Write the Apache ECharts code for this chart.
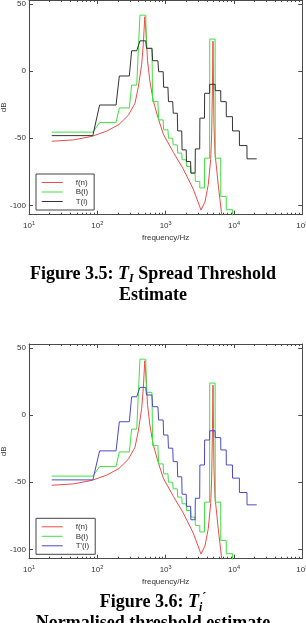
<!DOCTYPE html>
<html><head><meta charset="utf-8">
<script src="https://cdn.jsdelivr.net/npm/echarts@6/dist/echarts.min.js"></script>
<style>html,body{margin:0;padding:0;background:#fff;}#c{width:306px;height:623px;}</style>
</head><body><div id="c"></div>
<script>
// ---- data ----
// critical-band step edges (Hz)
const bandLo = [21.5, 108, 210, 318, 421, 525, 645, 790, 935, 1100, 1290, 1500, 1740, 2020, 2340, 2720, 3170, 3720, 4420, 5320, 6420, 7720, 9520, 12020, 15520];
const bandHi = [86, 188, 294, 377, 511, 630, 770, 920, 1080, 1270, 1480, 1720, 2000, 2320, 2700, 3150, 3700, 4400, 5300, 6400, 7700, 9500, 12000, 15500, 21500];
// B(i) spread band energy (dB), same in both figures
const bandB = [-45.5, -38.4, -27.5, -10.5, 41.6, 16.9, -22.8, -36.4, -43.8, -50, -55, -61.1, -66.1, -71.1, -76, -82.2, -87.1, -64.9, 23.8, -64.9, -93.4, -103.3, -115, null, null];
// T(i) spread threshold (Figure 3.5)
const threshT = [-48.1, -25.3, -3.7, 15.1, 22.5, 16.9, 7.7, -0.5, -12.1, -22.8, -31.4, -44.6, -58.7, -67.4, -76, -58, -35.1, -16.6, -9.9, -14.6, -22.8, -34, -44.6, -55.5, -65.4];
// T'(i) normalised threshold (Figure 3.6)
const threshTn = [-48.3, -26.7, -5.0, 13.6, 20.6, 14.9, 6.2, -3.7, -14.9, -24.7, -34.7, -46, -59, -68, -78, -62, -37.2, -18.6, -11.7, -16.8, -26, -37.2, -47, -57.7, -66.9];
// f(n) spectrum
const specFreq = [21.5, 44.5, 82.7, 137, 207.6, 283.9, 355.9, 397.8, 446, 471, 495, 518, 542, 590, 658, 776, 924, 1294, 1812, 2538, 3290, 3764, 4207, 4562, 4718, 4847, 4930, 5012, 5098, 5274, 5895, 6611, 7000];
const specDb = [-52.3, -51.3, -48.7, -44.8, -39.8, -33, -24, -12, 5, 20, 40.4, 28, 8, -8, -22, -35, -47, -60.5, -73, -88, -103.5, -97.5, -84.5, -66, -47, -10, 22.3, -10, -40, -61, -85, -107, -118];
// axes
const yTicks = [-100, -50, 0, 50];
const minorMult = [2, 3, 4, 5, 6, 7, 8, 9];
const legendNames1 = ['f(n)', 'B(i)', 'T(i)'];
const legendNames2 = ['f(n)', 'B(i)', "T'(i)"];

// ---- build ----
function steps(vals) {
  const out = [];
  vals.forEach((v, i) => {
    if (v === null) return;
    out.push([bandLo[i], v]);
    out.push([bandHi[i], v]);
  });
  return out;
}
const specPts = specFreq.map((f, i) => [f, specDb[i]]);

const axisCol = '#4a4a4a';
const txtCol = '#333';
const sans = 'Liberation Sans';
const serif = 'Liberation Serif';
const grids = [
  {left: 29, top: 0, width: 273.3, height: 214.7, containLabel: false, outerBoundsMode: 'none'},
  {left: 29, top: 344, width: 273.3, height: 214.7, containLabel: false, outerBoundsMode: 'none'}
];
const xAxes = [], yAxes = [], mainX = [], leftY = [];
grids.forEach((g, gi) => {
  mainX.push(xAxes.length);
  xAxes.push({
    type: 'log', logBase: 10, gridIndex: gi, position: 'bottom', min: 10, max: 100000,
    axisLine: {show: true, onZero: false, lineStyle: {color: axisCol, width: 1}},
    axisTick: {show: true, inside: true, length: 4, lineStyle: {color: axisCol}},
    axisLabel: {
      show: true, margin: 5.5, hideOverlap: false,
      formatter: v => '{m|10}{s|' + Math.round(Math.log10(v)) + '}',
      rich: {
        m: {fontSize: 8, fontFamily: sans, color: txtCol, lineHeight: 12, verticalAlign: 'middle'},
        s: {fontSize: 5.5, fontFamily: sans, color: txtCol, lineHeight: 5, verticalAlign: 'top'}
      }
    },
    splitLine: {show: false},
    name: 'frequency/Hz', nameLocation: 'middle', nameGap: 19.5, nameMoveOverlap: false,
    nameTextStyle: {fontSize: 8, fontFamily: sans, color: txtCol}
  });
  xAxes.push({
    type: 'log', logBase: 10, gridIndex: gi, position: 'top', min: 10, max: 100000,
    axisLine: {show: true, onZero: false, lineStyle: {color: axisCol, width: 1}},
    axisTick: {show: true, inside: true, length: 4, lineStyle: {color: axisCol}},
    axisLabel: {show: false}, splitLine: {show: false}
  });
  ['bottom', 'top'].forEach(pos => {
    minorMult.forEach(m => {
      xAxes.push({
        type: 'log', logBase: 10, gridIndex: gi, position: pos, min: 10 / m, max: 100000 / m,
        axisLine: {show: false, onZero: false},
        axisTick: {show: true, inside: true, length: 2, lineStyle: {color: axisCol}},
        axisLabel: {show: false}, splitLine: {show: false}
      });
    });
  });
  leftY.push(yAxes.length);
  yAxes.push({
    type: 'value', gridIndex: gi, position: 'left', min: -107, max: 52.9,
    axisLine: {show: true, onZero: false, lineStyle: {color: axisCol, width: 1}},
    axisTick: {show: true, inside: true, length: 4, customValues: yTicks, lineStyle: {color: axisCol}},
    axisLabel: {show: true, margin: 3, customValues: yTicks, fontSize: 8, fontFamily: sans, color: txtCol},
    splitLine: {show: false},
    name: 'dB', nameLocation: 'middle', nameRotate: 90, nameGap: 21.5, nameMoveOverlap: false,
    nameTextStyle: {fontSize: 8, fontFamily: sans, color: txtCol}
  });
  yAxes.push({
    type: 'value', gridIndex: gi, position: 'right', min: -107, max: 52.9,
    axisLine: {show: true, onZero: false, lineStyle: {color: axisCol, width: 1}},
    axisTick: {show: true, inside: true, length: 4, customValues: yTicks, lineStyle: {color: axisCol}},
    axisLabel: {show: false}, splitLine: {show: false}
  });
});

const RED = '#f04a4a', GREEN = '#3ee03e', BLACK = '#333333', BLUE = '#4a4ac8';
function line(name, data, color, gi) {
  return {
    type: 'line', name: name, data: data, xAxisIndex: mainX[gi], yAxisIndex: leftY[gi],
    symbol: 'none', showSymbol: false, smooth: false, clip: true,
    lineStyle: {color: color, width: 1}, itemStyle: {color: color},
    emphasis: {disabled: true}
  };
}
const series = [
  line('f(n)', specPts, RED, 0),
  line('B(i)', steps(bandB), GREEN, 0),
  line('T(i)', steps(threshT), BLACK, 0),
  line('f(n)', specPts, RED, 1),
  line('B(i)', steps(bandB), GREEN, 1),
  line("T'(i)", steps(threshTn), BLUE, 1)
];

function legend(names, top) {
  return {
    data: names, orient: 'vertical', left: 36, top: top,
    padding: [4, 6, 4, 5.7], itemGap: 0.5, itemWidth: 21, itemHeight: 1, icon: 'rect',
    borderColor: '#444', borderWidth: 1, backgroundColor: '#fff',
    selectedMode: false,
    textStyle: {fontSize: 8, fontFamily: sans, color: txtCol, lineHeight: 9, padding: [0, 0, 0, 8]}
  };
}

const capRich = {
  b: {fontFamily: serif, fontWeight: 'bold', fontSize: 18, color: '#000', lineHeight: 22, verticalAlign: 'middle'},
  i: {fontFamily: serif, fontWeight: 'bold', fontStyle: 'italic', fontSize: 18, color: '#000', lineHeight: 22, verticalAlign: 'middle'},
  sub: {fontFamily: serif, fontWeight: 'bold', fontStyle: 'italic', fontSize: 12, color: '#000', lineHeight: 12, verticalAlign: 'bottom'},
  sup: {fontFamily: serif, fontWeight: 'bold', fontSize: 12, color: '#000', lineHeight: 12, verticalAlign: 'top'}
};
const plainCap = {fontFamily: serif, fontWeight: 'bold', fontSize: 18, color: '#000'};

const option = {
  animation: false,
  backgroundColor: '#fff',
  grid: grids,
  xAxis: xAxes,
  yAxis: yAxes,
  legend: [legend(legendNames1, 174), legend(legendNames2, 518.3)],
  title: [
    {text: '{b|Figure 3.5: }{i|T}{sub|I}{b| Spread Threshold}', left: 'center', top: 263, padding: 0, textStyle: {rich: capRich}},
    {text: 'Estimate', left: 'center', top: 286, padding: 0, textStyle: plainCap},
    {text: '{b|Figure 3.6: }{i|T}{sub|i}{sup|\u00b4}', left: 'center', top: 591.7, padding: 0, textStyle: {rich: capRich}},
    {text: 'Normalised threshold estimate', left: 'center', top: 614, padding: 0, textStyle: plainCap}
  ],
  series: series
};
const chart = echarts.init(document.getElementById('c'), null, {renderer: 'canvas', devicePixelRatio: 1});
chart.setOption(option);
</script>
</body></html>
